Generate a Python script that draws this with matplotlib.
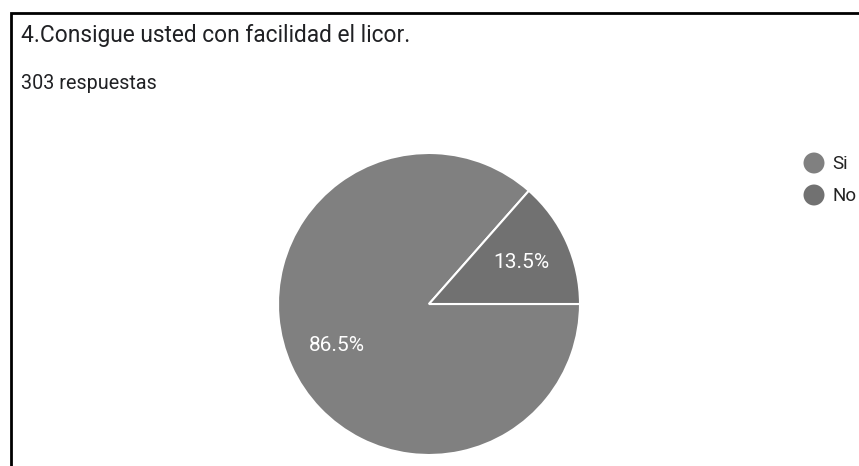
import matplotlib
matplotlib.use("Agg")
import matplotlib.pyplot as plt

plt.rcParams['font.family'] = ['Roboto', 'DejaVu Sans']

title = "4.Consigue usted con facilidad el licor."
subtitle = "303 respuestas"
labels = ["Si", "No"]
shares = [86.5, 13.5]
colors = ["#808080", "#717171"]

W, H = 859, 466
fig = plt.figure(figsize=(W / 100, H / 100), dpi=100)

# pie, centred at (429, 304) px with radius 151 px
cx, cy, r = 429, 304, 151
ax = fig.add_axes([(cx - r) / W, (H - cy - r) / H, 2 * r / W, 2 * r / H])
wedges, texts = ax.pie(shares, colors=colors, startangle=0, counterclock=False,
                       labels=[f"{s}%" for s in shares], labeldistance=0.67,
                       wedgeprops=dict(edgecolor="white", linewidth=1.5))
for t in texts:
    t.set_color("white")
    t.set_fontsize(15)
    t.set_ha("center")
    t.set_va("center")
ax.set_xlim(-1, 1)
ax.set_ylim(-1, 1)
ax.set_aspect("equal")
ax.axis("off")

# overlay in pixel coordinates for frame, titles and legend
ov = fig.add_axes([0, 0, 1, 1], zorder=-1)
ov.set_xlim(0, W)
ov.set_ylim(H, 0)
ov.axis("off")
ov.plot([10.5, 10.5, W], [H, 12.5, 12.5], color="black", lw=2, solid_joinstyle="miter")
ov.text(21, 42, title, fontsize=16.4, color="#202124", va="baseline", ha="left")
ov.text(21, 89, subtitle, fontsize=14.2, color="#202124", va="baseline", ha="left")

leg = fig.add_axes([0, 0, 1, 1])
leg.set_xlim(0, W)
leg.set_ylim(H, 0)
leg.axis("off")
for i, (lab, col) in enumerate(zip(labels, colors)):
    y = 163 + i * 32
    leg.scatter([814], [y], s=21 ** 2 * 0.72 ** 2 * 0.785 * 1.27, color=col, edgecolor="none")
    leg.text(832, y + 1, lab, fontsize=13.5, color="#222222", va="center", ha="left")

fig.savefig("out.png", dpi=100)
